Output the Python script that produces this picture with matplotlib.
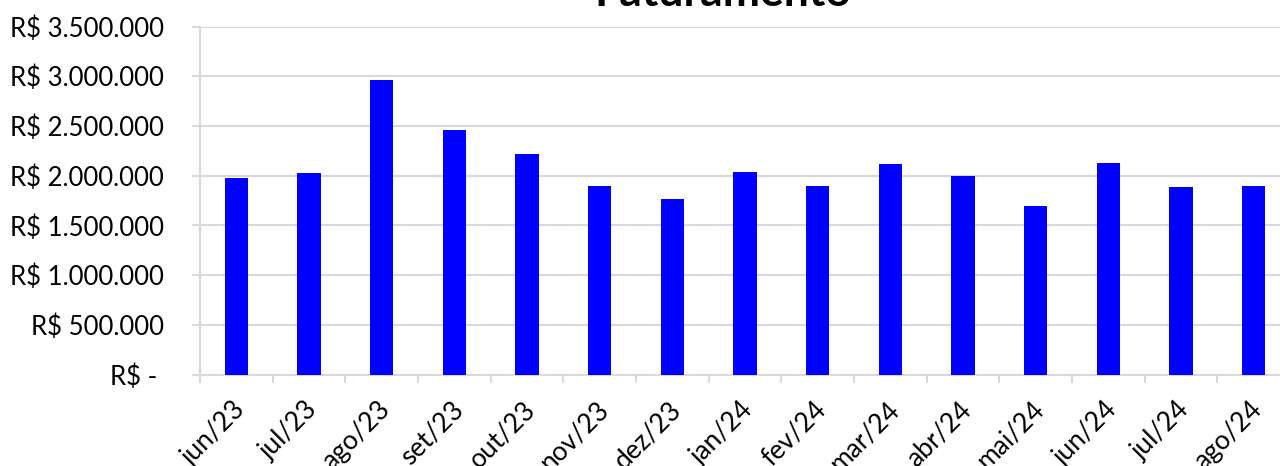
import matplotlib
matplotlib.use("Agg")
import matplotlib.pyplot as plt
import matplotlib.transforms as mtransforms
from matplotlib.ticker import FuncFormatter, MultipleLocator

meses = ["jun/23", "jul/23", "ago/23", "set/23", "out/23", "nov/23", "dez/23",
         "jan/24", "fev/24", "mar/24", "abr/24", "mai/24", "jun/24", "jul/24", "ago/24"]
faturamento = [1975000, 2030000, 2960000, 2457000, 2213000, 1894000, 1764000,
               2040000, 1894000, 2115000, 1998000, 1696000, 2125000, 1890000, 1900000]

plt.rcParams['font.family'] = ['Lato', 'DejaVu Sans']

def real(v, pos):
    """formata em R$"""
    if v == 0:
        return "R$ - "
    return "R$ " + "{:,.0f}".format(v).replace(",", ".")

fig = plt.figure(figsize=(12.8, 4.66), dpi=100)
ax = fig.add_axes([200/1280, 1-374.5/466, 1090/1280, 348/466])

x = range(len(meses))
ax.bar(x, faturamento, width=0.32, color='#0000ff', zorder=3)

ax.set_xlim(-0.5, len(meses)-0.5)
ax.set_ylim(0, 3500000)
ax.yaxis.set_major_locator(MultipleLocator(500000))
ax.yaxis.set_major_formatter(FuncFormatter(real))
ax.grid(axis='y', color='#d9d9d9', linewidth=1.5, zorder=0)

ax.set_xticks(list(x))
ax.set_xticklabels(meses, rotation=45, ha='right', va='top', rotation_mode='anchor')
ax.set_xticks([i-0.5 for i in range(len(meses)+1)], minor=True)
ax.tick_params(axis='x', which='major', length=0, pad=16, labelsize=19)
ax.tick_params(axis='x', which='minor', length=6, width=1.5, color='#d9d9d9')
ax.tick_params(axis='y', length=6, width=1.5, color='#d9d9d9', labelsize=18.5, pad=20)

desloc = mtransforms.ScaledTranslation(-4/100, 0, fig.dpi_scale_trans)
for lbl in ax.get_xticklabels():
    lbl.set_transform(lbl.get_transform() + desloc)

for s in ['top', 'right']:
    ax.spines[s].set_visible(False)
for s in ['left', 'bottom']:
    ax.spines[s].set_color('#d9d9d9')
    ax.spines[s].set_linewidth(1.5)

fig.text(723/1280, 1-6/466, "Faturamento", ha='center', va='baseline',
         fontsize=32, fontweight='bold')

plt.savefig('out.png', dpi=100)
